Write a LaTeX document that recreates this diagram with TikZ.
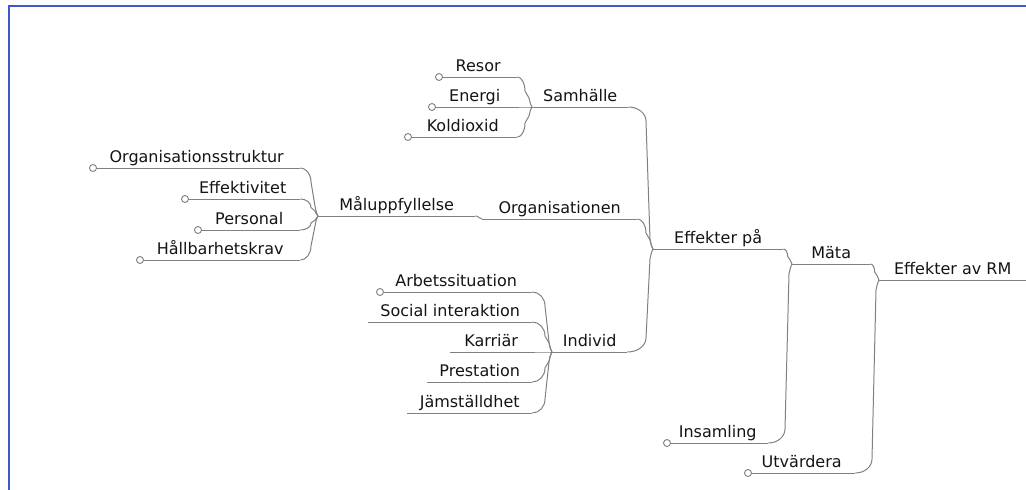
\documentclass[tikz,border=0pt]{standalone}
\usepackage{fontspec}
\setmainfont{DejaVu Sans}
\usetikzlibrary{calc}
\definecolor{linegray}{RGB}{128,128,128}
\definecolor{frameblue}{RGB}{60,90,205}
\definecolor{textgray}{RGB}{20,20,20}

\begin{document}
\begin{tikzpicture}[x=1pt,y=-1pt,
  topic/.style={anchor=south west,inner xsep=0pt,inner ysep=5pt,text depth=0pt,
    font=\fontsize{16}{19}\selectfont,text=textgray},
  wire/.style={draw=linegray,line width=1pt},
  knob/.style={circle,draw=linegray,fill=white,line width=0.9pt,inner sep=0pt,minimum size=7pt},
  branch/.style={to path={let \p1=(\tikztostart),\p2=(\tikztotarget),
      \n1={sign((\y2)-(\y1))},\n2={min(14,0.5*abs((\y2)-(\y1)))},
      \n3={min(10,0.3*abs((\y2)-(\y1)))},\n4={min(7,0.5*((\x2)-(\x1)))},
      \n5={min(3,0.25*((\x2)-(\x1)))} in
    .. controls ({(\x1)+0.55*((\x2)-(\n4)*1pt-(\x1))},\y1)
       and ({(\x2)-(\n4)*1pt},{(\y1)+0.45*(\n1)*(\n2)*1pt})
    .. ({(\x2)-(\n4)*1pt},{(\y1)+(\n1)*(\n2)*1pt})
    -- ({(\x2)-(\n5)*1pt},{(\y2)-(\n1)*(\n3)*1pt})
    .. controls ({(\x2)-0.5*(\n5)*1pt},{(\y2)-0.3*(\n1)*(\n3)*1pt}) .. (\tikztotarget)}}]
\useasboundingbox (0,0) rectangle (1026,490);
\draw[frameblue,line width=1.6pt] (9,490) -- (9,6) -- (1026,6);

\node[topic,minimum width=147pt](root) at (879,280){Effekter av RM};
\node[topic,minimum width=78pt](mata) at (792,264){Mäta};
\node[topic,minimum width=130pt](effpa) at (653,249){Effekter på};
\node[topic,minimum width=101pt](insam) at (667,443){Insamling};
\node[topic,minimum width=107pt](utv) at (748,473){Utvärdera};
\node[topic,minimum width=96pt](samh) at (532,107){Samhälle};
\node[topic,minimum width=155pt](org) at (482,219){Organisationen};
\node[topic,minimum width=75pt](indiv) at (552,352){Individ};
\node[topic,minimum width=157pt](malu) at (318,216){Måluppfyllelse};
\node[topic,minimum width=78pt](resor) at (439,77){Resor};
\node[topic,minimum width=85pt](energi) at (432,107){Energi};
\node[topic,minimum width=109pt](koldi) at (408,137){Koldioxid};
\node[topic,minimum width=207pt](orgstr) at (93,168){Organisationsstruktur};
\node[topic,minimum width=115pt](effekt) at (185,199){Effektivitet};
\node[topic,minimum width=102pt](pers) at (198,230){Personal};
\node[topic,minimum width=160pt](hallb) at (140,260){Hållbarhetskrav};
\node[topic,minimum width=152pt](arbet) at (380,292){Arbetssituation};
\node[topic,minimum width=164pt](social) at (368,322){Social interaktion};
\node[topic,minimum width=82pt](karr) at (450,352){Karriär};
\node[topic,minimum width=105pt](prest) at (427,382){Prestation};
\node[topic,minimum width=125pt](jamst) at (407,413){Jämställdhet};

\foreach \n in {root,mata,effpa,insam,utv,samh,org,indiv,malu,resor,energi,koldi,
  orgstr,effekt,pers,hallb,arbet,social,karr,prest,jamst}
  \draw[wire] (\n.south west) -- (\n.south east);

\foreach \kid/\dad in {mata/root,utv/root,effpa/mata,insam/mata,samh/effpa,org/effpa,
  indiv/effpa,malu/org,resor/samh,energi/samh,koldi/samh,orgstr/malu,effekt/malu,
  pers/malu,hallb/malu,arbet/indiv,social/indiv,karr/indiv,prest/indiv,jamst/indiv}
  \draw[wire] (\kid.south east) to[branch] (\dad.south west);

\foreach \n in {resor,energi,koldi,orgstr,effekt,pers,hallb,arbet,insam,utv}
  \node[knob](\n-k) at (\n.south west){};
\end{tikzpicture}
\end{document}
